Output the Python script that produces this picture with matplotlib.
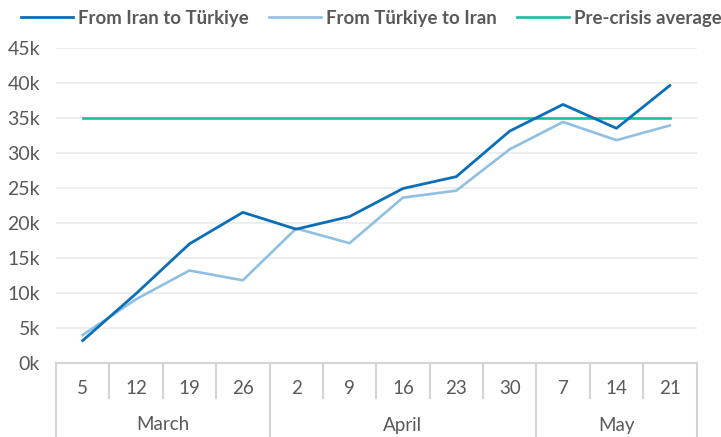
import numpy as np
import matplotlib
matplotlib.use("Agg")
import matplotlib.pyplot as plt
from matplotlib.transforms import blended_transform_factory

plt.rcParams["font.family"] = ["Lato", "DejaVu Sans"]

days = ["5", "12", "19", "26", "2", "9", "16", "23", "30", "7", "14", "21"]
months = ["March", "April", "May"]
month_span = [4, 5, 3]

iran_to_turkiye = [3.2, 9.9, 17.0, 21.5, 19.1, 20.9, 24.9, 26.6, 33.1, 36.9, 33.5, 39.6]
turkiye_to_iran = [4.0, 9.1, 13.2, 11.8, 19.2, 17.1, 23.6, 24.6, 30.5, 34.4, 31.8, 33.9]
pre_crisis_avg = 35.0

c_dark = "#0a6fb8"
c_light = "#8fc0e3"
c_teal = "#19bf9e"
c_text = "#595959"
c_sep = "#d4d4d4"

fig = plt.figure(figsize=(7.21, 4.37), dpi=100)
h = 363 - 47.7
ax = fig.add_axes([56 / 721, 1 - 363 / 437, 640.5 / 721, h / 437])

x = np.arange(len(days))
ax.plot(x, [pre_crisis_avg] * len(days), color=c_teal, lw=1.9, label="Pre-crisis average", zorder=2)
ax.plot(x, turkiye_to_iran, color=c_light, lw=1.9, label="From Türkiye to Iran", zorder=3)
ax.plot(x, iran_to_turkiye, color=c_dark, lw=2.0, label="From Iran to Türkiye", zorder=4)

ax.set_xlim(-0.5, len(days) - 0.5)
ax.set_ylim(0, 45)
yt = np.arange(0, 46, 5)
ax.set_yticks(yt)
ax.set_yticklabels([f"{v}k" for v in yt], color=c_text, fontsize=14)
ax.tick_params(axis="y", length=0, pad=11.5)
ax.set_xticks([])
ax.yaxis.grid(True, color="#ededed", lw=1.3)
ax.set_axisbelow(True)
for s in ["top", "right", "left"]:
    ax.spines[s].set_visible(False)
ax.spines["bottom"].set_color(c_sep)
ax.spines["bottom"].set_linewidth(1.5)

# two-level category axis
trans = blended_transform_factory(ax.transData, ax.transAxes)
day_bottom = -35 / h
month_bottom = -74.5 / h
for i, d in enumerate(days):
    ax.text(i, -25.5 / h, d, transform=trans, ha="center", va="center", fontsize=13.5, color=c_text)

starts = np.cumsum([0] + month_span)
for i in range(len(days) + 1):
    edge = i - 0.5
    bottom = month_bottom if i in starts else day_bottom
    ax.plot([edge, edge], [0, bottom], transform=trans, color=c_sep, lw=1.5, clip_on=False)
for m, s, n in zip(months, starts[:-1], month_span):
    ax.text(s - 0.5 + n / 2, -62 / h, m, transform=trans, ha="center", va="center", fontsize=13.5, color=c_text)

handles, labels = ax.get_legend_handles_labels()
order = [2, 1, 0]
leg = fig.legend([handles[i] for i in order], [labels[i] for i in order],
                 loc="center left", bbox_to_anchor=(21 / 721, 1 - 18.5 / 437), ncol=3,
                 frameon=False, handlelength=2.8, handletextpad=0.27, columnspacing=1.07,
                 borderaxespad=0, borderpad=0,
                 prop={"weight": "bold", "size": 13.4})
for t in leg.get_texts():
    t.set_color(c_text)

fig.savefig("out.png", dpi=100)
